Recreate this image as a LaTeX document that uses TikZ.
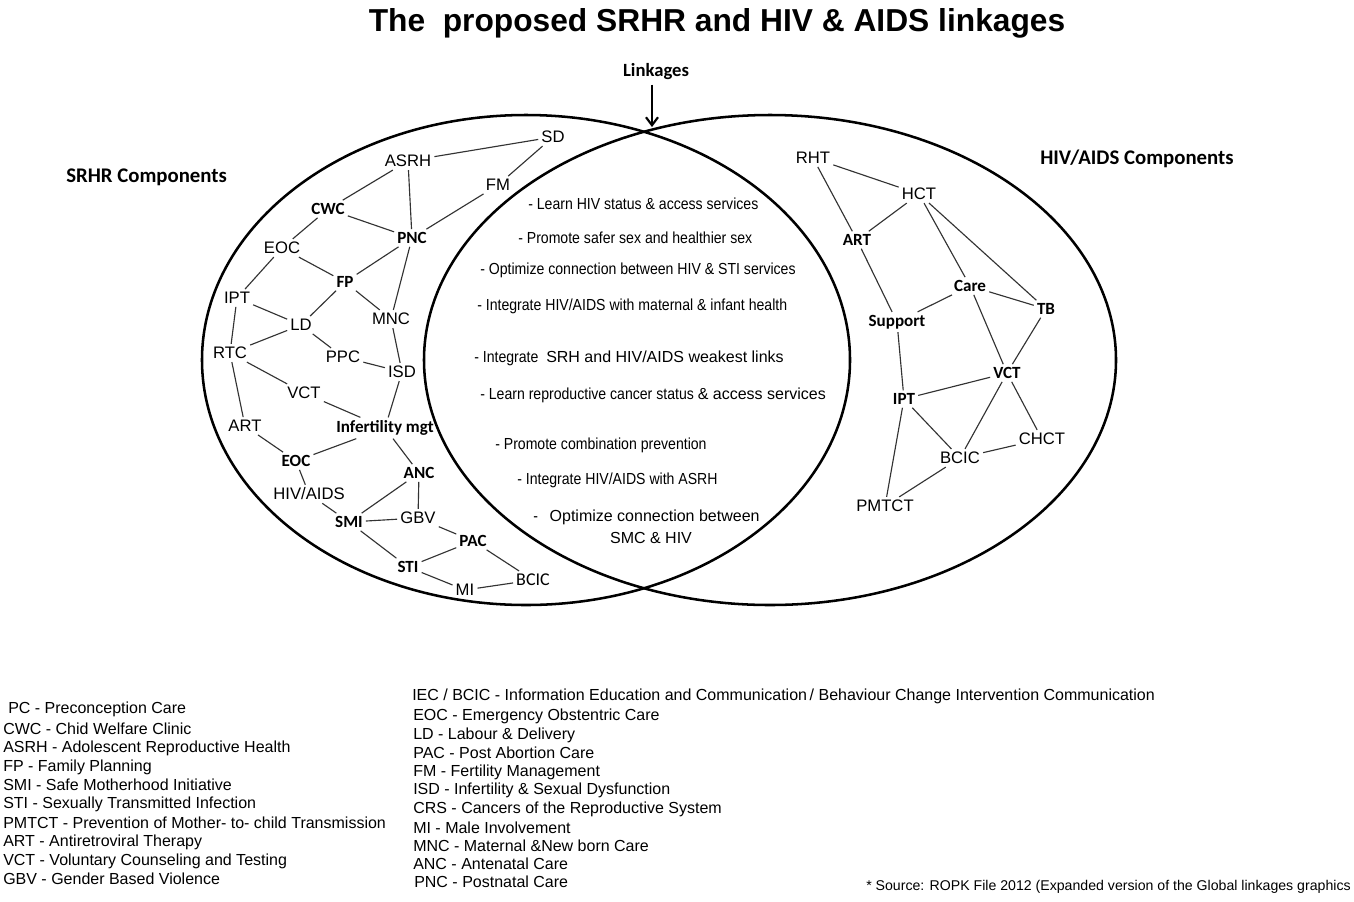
\documentclass[tikz,border=0pt]{standalone}
\usepackage{fontspec}
\setmainfont{Liberation Sans}
\newfontfamily\calfont{Carlito}
\newfontfamily\narrowsans[FakeStretch=0.88]{Liberation Sans}
\usetikzlibrary{arrows.meta}

\tikzset{
  comp/.style={font=\fontsize{12.5}{14}\selectfont, inner sep=2.2pt},
  compb/.style={font=\calfont\bfseries\fontsize{12.8}{14}\selectfont, inner sep=2.2pt},
  link/.style={draw=black!80, line width=0.85pt},
  ring/.style={draw=black, line width=1.9pt},
  point/.style={font=\narrowsans\fontsize{12}{14}\selectfont, anchor=west, inner sep=0pt},
  legend/.style={font=\fontsize{12}{13}\selectfont, anchor=west, inner sep=0pt},
  heading/.style={font=\calfont\bfseries\fontsize{15.6}{17}\selectfont, inner sep=0pt},
}

\begin{document}
\begin{tikzpicture}[x=0.75pt, y=-0.75pt]
\useasboundingbox (0,0) rectangle (1354,901);
\fill[white] (0,0) rectangle (1354,901);
\clip (0,0) rectangle (1354,901);

% title and side headings
\node[font=\bfseries\fontsize{23.8}{26}\selectfont, inner sep=0pt] (title) at (717,23) {The\ \ proposed SRHR and HIV \& AIDS linkages};
\node[heading, anchor=west] (srhrhead) at (66,177) {SRHR Components};
\node[heading, anchor=west] (hivhead) at (1040,159) {HIV/AIDS Components};
\node[font=\calfont\bfseries\fontsize{14}{16}\selectfont, inner sep=1pt] (linkages) at (656,72) {Linkages};
\coordinate (meet) at (652,127);
\draw[line width=1.6pt, -{Straight Barb[length=6pt,width=9pt]}] (linkages.south -| meet) ++(0,3) -- (meet);

% the two overlapping ellipses
\draw[ring] (526,360) ellipse [x radius=324, y radius=245];
\draw[ring] (770,360) ellipse [x radius=346, y radius=245];

% SRHR components
\node[comp]  (sd)      at (553,137) {SD};
\node[comp]  (asrh)    at (408,161) {ASRH};
\node[comp]  (fm)      at (498,185) {FM};
\node[compb] (cwc)     at (328,209) {CWC};
\node[compb] (pnc)     at (412,238) {PNC};
\node[comp]  (eocA)    at (282,248) {EOC};
\node[compb] (fp)      at (345,282) {FP};
\node[comp]  (iptL)    at (237,298) {IPT};
\node[comp]  (mnc)     at (391,319) {MNC};
\node[comp]  (ld)      at (301,325) {LD};
\node[comp]  (rtc)     at (230,353) {RTC};
\node[comp]  (ppc)     at (343,357) {PPC};
\node[comp]  (isd)     at (402,372) {ISD};
\node[comp]  (vctL)    at (304,393) {VCT};
\node[comp]  (artL)    at (245,426) {ART};
\node[compb] (infm)    at (385,428) {Infertility mgt};
\node[compb] (eocB)    at (296,461) {EOC};
\node[compb] (anc)     at (419,473) {ANC};
\node[comp]  (hivaids) at (309,494) {HIV/AIDS};
\node[compb] (smi)     at (349,522) {SMI};
\node[comp]  (gbv)     at (418,518) {GBV};
\node[compb] (pac)     at (473,541) {PAC};
\node[compb] (sti)     at (408,567) {STI};
\node[comp]  (mi)      at (465,590) {MI};
\node[font=\calfont\fontsize{13.5}{15}\selectfont, inner sep=2.2pt] (bcicL) at (533,580) {BCIC};

\draw[link] (asrh) -- (sd);
\draw[link] (sd) -- (fm);
\draw[link] (asrh) -- (cwc);
\draw[link] (asrh) -- (pnc);
\draw[link] (fm) -- (pnc);
\draw[link] (cwc) -- (pnc);
\draw[link] (cwc) -- (eocA);
\draw[link] (eocA) -- (fp);
\draw[link] (eocA) -- (iptL);
\draw[link] (pnc) -- (fp);
\draw[link] (pnc) -- (mnc);
\draw[link] (mnc) -- (isd);
\draw[link] (fp) -- (ld);
\draw[link] (fp) -- (mnc);
\draw[link] (iptL) -- (ld);
\draw[link] (iptL) -- (rtc);
\draw[link] (ld) -- (rtc);
\draw[link] (ld) -- (ppc);
\draw[link] (ppc) -- (isd);
\draw[link] (isd) -- (infm);
\draw[link] (rtc) -- (vctL);
\draw[link] (rtc) -- (artL);
\draw[link] (vctL) -- (infm);
\draw[link] (artL) -- (eocB);
\draw[link] (infm) -- (eocB);
\draw[link] (infm) -- (anc);
\draw[link] (eocB) -- (hivaids);
\draw[link] (hivaids) -- (smi);
\draw[link] (anc) -- (smi);
\draw[link] (anc) -- (gbv);
\draw[link] (smi) -- (gbv);
\draw[link] (gbv) -- (pac);
\draw[link] (smi) -- (sti);
\draw[link] (sti) -- (pac);
\draw[link] (sti) -- (mi);
\draw[link] (pac) -- (bcicL);
\draw[link] (mi) -- (bcicL);

% HIV/AIDS components
\node[comp]  (rht)     at (813,158) {RHT};
\node[comp]  (hct)     at (919,194) {HCT};
\node[compb] (artR)    at (857,240) {ART};
\node[compb] (care)    at (970,286) {Care};
\node[compb] (tb)      at (1046,309) {TB};
\node[compb] (support) at (897,322) {Support};
\node[compb] (vctR)    at (1007,373) {VCT};
\node[compb] (iptR)    at (904,399) {IPT};
\node[comp]  (chct)    at (1042,439) {CHCT};
\node[comp]  (bcicR)   at (960,458) {BCIC};
\node[comp]  (pmtct)   at (885,506) {PMTCT};

\draw[link] (rht) -- (hct);
\draw[link] (rht) -- (artR);
\draw[link] (hct) -- (artR);
\draw[link] (hct) -- (care);
\draw[link] (hct) -- (tb);
\draw[link] (artR) -- (support);
\draw[link] (care) -- (support);
\draw[link] (care) -- (tb);
\draw[link] (care) -- (vctR);
\draw[link] (tb) -- (vctR);
\draw[link] (support) -- (iptR);
\draw[link] (vctR) -- (iptR);
\draw[link] (vctR) -- (bcicR);
\draw[link] (vctR) -- (chct);
\draw[link] (iptR) -- (bcicR);
\draw[link] (iptR) -- (pmtct);
\draw[link] (bcicR) -- (chct);
\draw[link] (bcicR) -- (pmtct);

% linkage points in the overlap
\node[point] (p1) at (528,204) {- Learn HIV status \& access services};
\node[point] (p2) at (518,238) {- Promote safer sex and healthier sex};
\node[point] (p3) at (480,270) {- Optimize connection between HIV \& STI services};
\node[point] (p4) at (477,306) {- Integrate HIV/AIDS with maternal \& infant health};
\node[point] (p5) at (474,358) {- Integrate\ \ {\rmfamily SRH and HIV/AIDS weakest links}};
\node[point] (p6) at (480,395) {- Learn reproductive cancer status {\rmfamily\& access services}};
\node[point] (p7) at (495,445) {- Promote combination prevention};
\node[point] (p8) at (517,480) {- Integrate HIV/AIDS with ASRH};
\node[point] (p9) at (533,517) {-\ \ \ {\rmfamily Optimize connection between}};
\node[font=\fontsize{12}{14}\selectfont, inner sep=0pt] (p9b) at (651,538) {SMC \& HIV};

% abbreviations
\node[legend] (l1)  at (8,709)  {PC - Preconception Care};
\node[legend] (l2)  at (3,729)  {CWC - Chid Welfare Clinic};
\node[legend] (l3)  at (3,748)  {ASRH - Adolescent Reproductive Health};
\node[legend] (l4)  at (3,767)  {FP - Family Planning};
\node[legend] (l5)  at (3,785)  {SMI - Safe Motherhood Initiative};
\node[legend] (l6)  at (3,804)  {STI - Sexually Transmitted Infection};
\node[legend] (l7)  at (3,823)  {PMTCT - Prevention of Mother- to- child Transmission};
\node[legend] (l8)  at (3,842)  {ART - Antiretroviral Therapy};
\node[legend] (l9)  at (3,861)  {VCT - Voluntary Counseling and Testing};
\node[legend] (l10) at (3,879)  {GBV - Gender Based Violence};

\node[legend] (m1)  at (412,696) {IEC / BCIC - Information Education and Communication\,/ Behaviour Change Intervention Communication};
\node[legend] (m2)  at (413,716) {EOC - Emergency Obstentric Care};
\node[legend] (m3)  at (413,735) {LD - Labour \& Delivery};
\node[legend] (m4)  at (413,753) {PAC - Post Abortion Care};
\node[legend] (m5)  at (413,772) {FM - Fertility Management};
\node[legend] (m6)  at (413,790) {ISD - Infertility \& Sexual Dysfunction};
\node[legend] (m7)  at (413,809) {CRS - Cancers of the Reproductive System};
\node[legend] (m8)  at (413,828) {MI - Male Involvement};
\node[legend] (m9)  at (413,846) {MNC - Maternal \&New born Care};
\node[legend] (m10) at (413,864) {ANC - Antenatal Care};
\node[legend] (m11) at (414,882) {PNC - Postnatal Care};

\node[font=\fontsize{10.6}{12}\selectfont, anchor=west, inner sep=0pt] (source) at (866,887) {* Source: ROPK File 2012 (Expanded version of the Global linkages graphics};
\end{tikzpicture}
\end{document}
